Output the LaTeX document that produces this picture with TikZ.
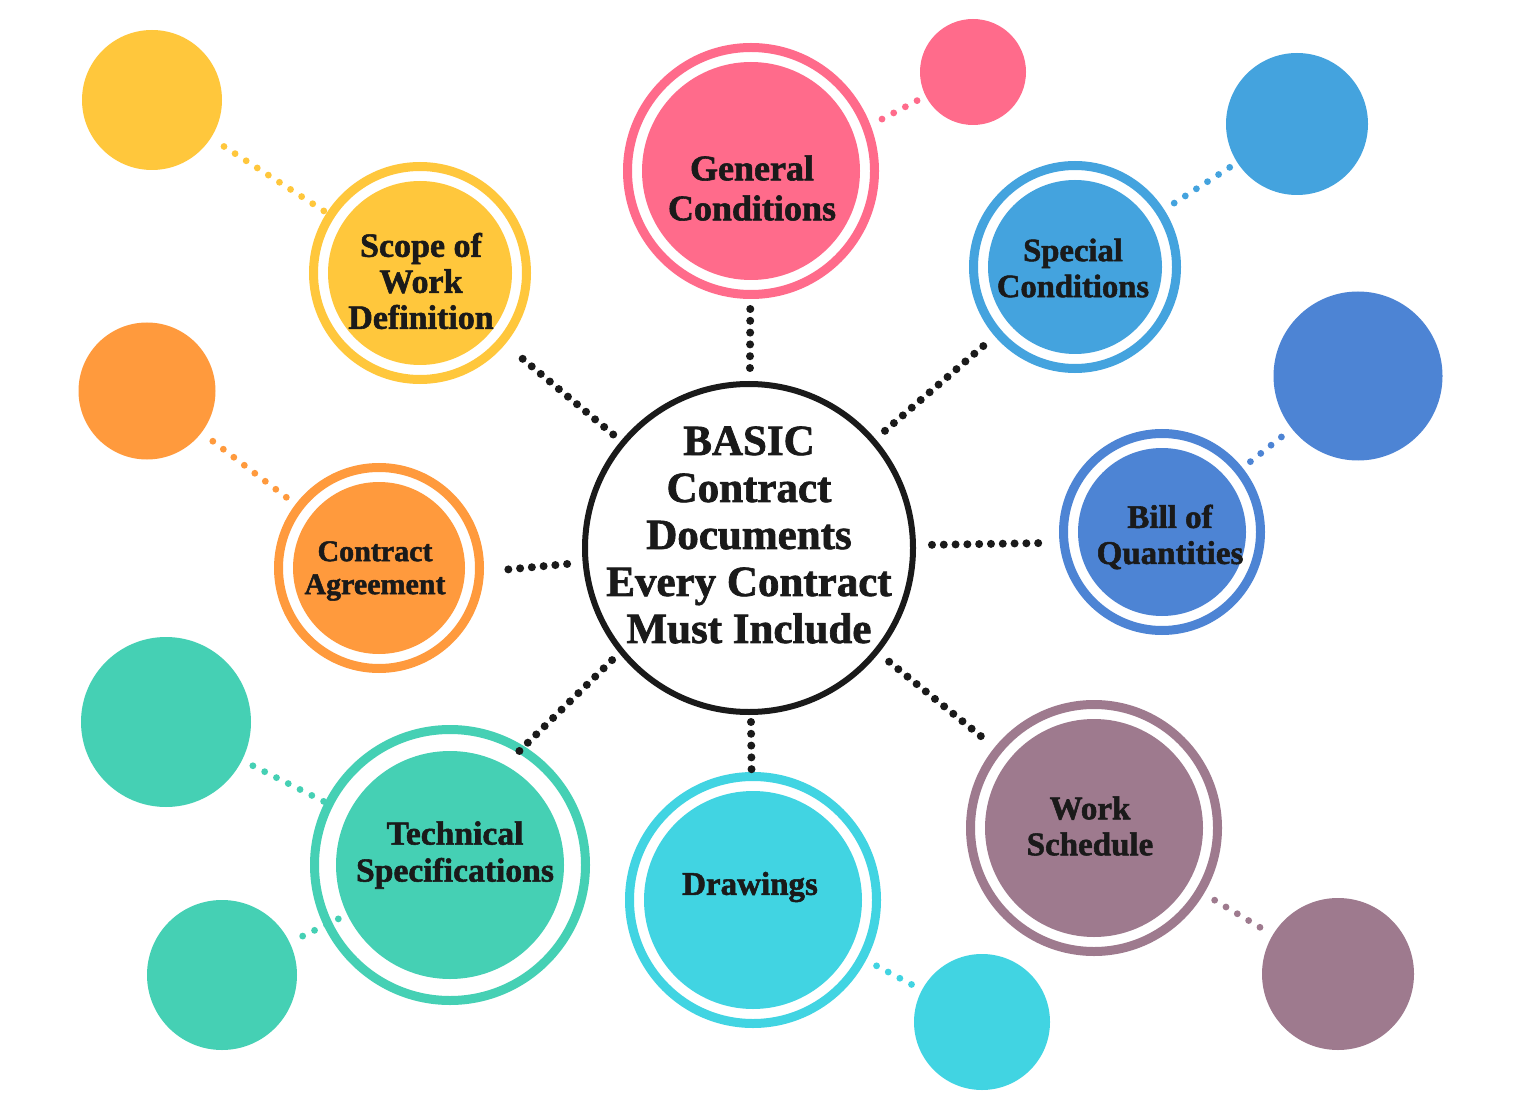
\documentclass[tikz,border=0pt]{standalone}
\usepackage{fontspec}
\setmainfont{Liberation Serif}[BoldFeatures={FakeBold=1.6}]
\definecolor{pinkc}{HTML}{FF6B8B}
\definecolor{yellowc}{HTML}{FFC73C}
\definecolor{orangec}{HTML}{FF9A3D}
\definecolor{tealc}{HTML}{45D0B4}
\definecolor{cyanc}{HTML}{41D4E2}
\definecolor{bluec}{HTML}{44A3DE}
\definecolor{bqc}{HTML}{4D84D4}
\definecolor{purplec}{HTML}{9E7A8E}
\definecolor{inkc}{HTML}{1A1A1A}
\tikzset{
  ring/.style n args={2}{circle, inner sep=0pt, draw=#1, fill=white, line width=4.5pt, minimum size={(#2-9)*0.5pt}},
  core/.style n args={2}{circle, inner sep=0pt, fill=#1, minimum size={#2*0.5pt}},
  blob/.style n args={2}{circle, inner sep=0pt, fill=#1, minimum size={#2*0.5pt}},
  hub/.style={circle, inner sep=0pt, draw=inkc, fill=white, line width=3pt, minimum size=164pt},
  label/.style={align=center, text=inkc, inner sep=0pt, font=\bfseries},
  bdots/.style={draw=inkc, line width=4pt, line cap=round, dash pattern=on 0pt off 5.9pt},
  cdots/.style={draw=#1, line width=3.4pt, line cap=round, dash pattern=on 0pt off 6.6pt}
}
\begin{document}
\begin{tikzpicture}[x=0.5pt,y=-0.5pt]
\useasboundingbox[fill=white] (0,0) rectangle (1520,1112);

% small satellite circles
\node[blob={pinkc}{106}] (p1) at (973,72) {};
\node[blob={bluec}{142}] (p2) at (1297,124) {};
\node[blob={bqc}{169}] (p3) at (1358,376) {};
\node[blob={purplec}{152}] (p4) at (1338,974) {};
\node[blob={cyanc}{136}] (p5) at (982,1022) {};
\node[blob={tealc}{170}] (p6) at (166,722) {};
\node[blob={tealc}{150}] (p7) at (222,975) {};
\node[blob={orangec}{137}] (p8) at (147,391) {};
\node[blob={yellowc}{140}] (p9) at (152,100) {};

% ringed nodes
\node[ring={pinkc}{256}] (gc) at (751,171) {};
\node[core={pinkc}{218}] at (gc.center) {};
\node[ring={yellowc}{222}] (sc) at (420,273) {};
\node[core={yellowc}{184}] at (sc.center) {};
\node[ring={bluec}{212}] (sp) at (1075,267) {};
\node[core={bluec}{174}] at (sp.center) {};
\node[ring={bqc}{206}] (bq) at (1162,532) {};
\node[core={bqc}{168}] at (bq.center) {};
\node[ring={orangec}{210}] (ca) at (379,568) {};
\node[core={orangec}{172}] at (ca.center) {};
\node[ring={tealc}{280}] (ts) at (450,865) {};
\node[core={tealc}{228}] at (ts.center) {};
\node[ring={cyanc}{256}] (dr) at (753,900) {};
\node[core={cyanc}{218}] at (dr.center) {};
\node[ring={purplec}{256}] (ws) at (1094,828) {};
\node[core={purplec}{218}] at (ws.center) {};

% hub
\node[hub] (cc) at (749,548) {};

% labels
\node[label, font=\bfseries\fontsize{21.5pt}{23.5pt}\selectfont] (cct) at (749,535) {BASIC\\Contract\\Documents\\Every Contract\\Must Include};
\node[label, font=\bfseries\fontsize{18pt}{20pt}\selectfont] (gct) at (752,188) {General\\Conditions};
\node[label, font=\bfseries\fontsize{17pt}{18pt}\selectfont] (sct) at (421,281) {Scope of\\Work\\Definition};
\node[label, font=\bfseries\fontsize{16.3pt}{18pt}\selectfont] (spt) at (1073,268) {Special\\Conditions};
\node[label, font=\bfseries\fontsize{16.5pt}{18pt}\selectfont] (bqt) at (1170,537) {Bill of\\Quantities};
\node[label, font=\bfseries\fontsize{15pt}{16.5pt}\selectfont] (cat) at (375,571) {Contract\\Agreement};
\node[label, font=\bfseries\fontsize{16.8pt}{18.5pt}\selectfont] (tst) at (455,855) {Technical\\Specifications};
\node[label, font=\bfseries\fontsize{16.5pt}{18pt}\selectfont] (drt) at (750,887) {Drawings};
\node[label, font=\bfseries\fontsize{16.5pt}{18pt}\selectfont] (wst) at (1090,826) {Work\\Schedule};

% black connectors hub -> nodes
\draw[bdots, shorten <=90pt, shorten >=67pt] (cc.center) -- (gc.center);
\draw[bdots, shorten <=89.75pt, shorten >=55pt] (cc.center) -- (sp.center);
\draw[bdots, shorten <=8pt, shorten >=5.8pt] (cc.1) -- (bq.186);
\draw[bdots, shorten <=90.25pt, shorten >=68pt] (cc.center) -- (ws.center);
\draw[bdots, shorten <=87pt, shorten >=62pt] (cc.center) -- (dr.center);
\draw[bdots, shorten <=5pt, shorten >=-8.3pt] (cc.219) -- (ts.58);
\draw[bdots, shorten <=7.8pt, shorten >=6.5pt] (cc.185) -- (ca.358);
\draw[bdots, shorten <=88.5pt, shorten >=61.5pt] (cc.center) -- (sc.center);

% coloured connectors
\draw[cdots=pinkc, shorten <=6.5pt, shorten >=4pt] (gc.21) -- (p1.207);
\draw[cdots=bluec, shorten <=59pt, shorten >=39.5pt] (sp.center) -- (p2.center);
\draw[cdots=bqc, shorten <=56.5pt, shorten >=46.5pt] (bq.center) -- (p3.center);
\draw[cdots=purplec, shorten <=70.3pt, shorten >=44pt] (ws.center) -- (p4.center);
\draw[cdots=cyanc, shorten <=70pt, shorten >=38pt] (dr.center) -- (p5.center);
\draw[cdots=tealc, shorten <=70.75pt, shorten >=44.8pt] (ts.center) -- (p6.center);
\draw[cdots=tealc, shorten <=62pt, shorten >=40.5pt] (ts.center) -- (p7.center);
\draw[cdots=orangec, shorten <=58.3pt, shorten >=39pt] (ca.center) -- (p8.center);
\draw[cdots=yellowc, shorten <=57.25pt, shorten >=37.85pt] (sc.center) -- (p9.center);
\end{tikzpicture}
\end{document}
